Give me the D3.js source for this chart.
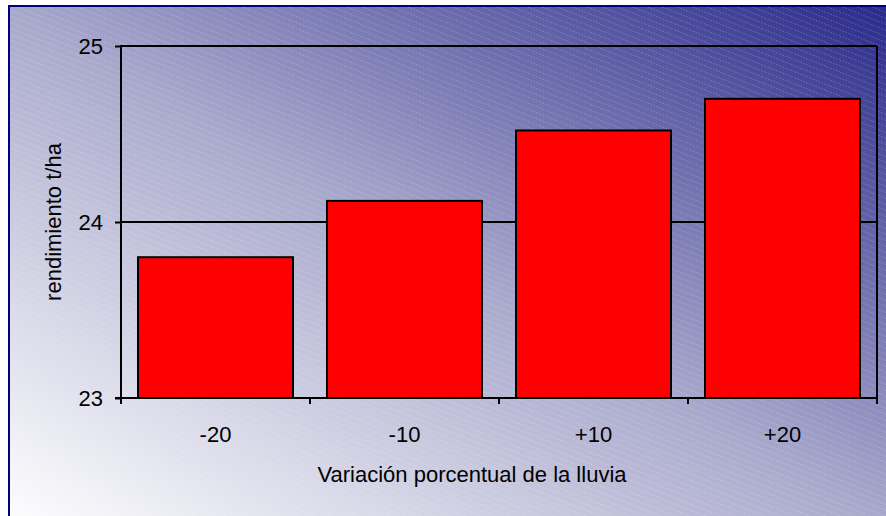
<!DOCTYPE html>
<html>
<head>
<meta charset="utf-8">
<script src="https://cdn.jsdelivr.net/npm/d3@7/dist/d3.min.js"></script>
<style>
  html, body { margin: 0; padding: 0; background: #ffffff; }
  svg { display: block; }
  text { font-family: "Liberation Sans", Arial, sans-serif; fill: #000; }
</style>
</head>
<body>
<svg id="chart" width="886" height="516"></svg>
<script>
const categories = ["-20", "-10", "+10", "+20"];
const values = [23.8, 24.12, 24.52, 24.7];
const yTicks = [23, 24, 25];
const xTitle = "Variación porcentual de la lluvia";
const yTitle = "rendimiento t/ha";

const W = 886, H = 516;
const FS = 22;
const svg = d3.select("#chart");
const defs = svg.append("defs");

const grad = defs.append("linearGradient").attr("id", "bg")
  .attr("x1", 0).attr("y1", 1).attr("x2", 1).attr("y2", 0);
grad.append("stop").attr("offset", "0").attr("stop-color", "#ffffff");
grad.append("stop").attr("offset", "0.5").attr("stop-color", "#a8a8cc");
grad.append("stop").attr("offset", "1").attr("stop-color", "#28288a");

const pat = defs.append("pattern").attr("id", "hatch")
  .attr("patternUnits", "userSpaceOnUse")
  .attr("width", 15).attr("height", 6);
[[0, 15], [-15, 0], [15, 30]].forEach(([a, b]) => {
  pat.append("line").attr("x1", a).attr("y1", 0).attr("x2", b).attr("y2", 6)
    .attr("stroke", "#ffffff").attr("stroke-opacity", 0.22).attr("stroke-width", 1)
    .attr("stroke-dasharray", "1.5,1.5");
});

// background and border
svg.append("rect").attr("x", 0).attr("y", 0).attr("width", W).attr("height", H).attr("fill", "#ffffff");
svg.append("rect").attr("x", 9).attr("y", 6).attr("width", W + 6).attr("height", H + 6).attr("fill", "url(#bg)");
svg.append("rect").attr("x", 9).attr("y", 6).attr("width", W + 6).attr("height", H + 6).attr("fill", "url(#hatch)");
svg.append("rect").attr("x", 9).attr("y", 6).attr("width", W + 6).attr("height", H + 6)
  .attr("fill", "none").attr("stroke", "#000080").attr("stroke-width", 2);

const plot = { left: 121, top: 46, right: 877, bottom: 398 };

const x = d3.scaleBand().domain(categories)
  .range([plot.left, plot.right]).paddingInner(0.18).paddingOuter(0.09);
const y = d3.scaleLinear().domain([23, 25]).range([plot.bottom, plot.top]);

// gridlines
svg.append("g").selectAll("line").data(yTicks.filter(t => t !== 23)).join("line")
  .attr("x1", plot.left).attr("x2", plot.right)
  .attr("y1", d => y(d)).attr("y2", d => y(d))
  .attr("stroke", "#000").attr("stroke-width", 2);

// right border of plot area
svg.append("line").attr("x1", plot.right).attr("x2", plot.right)
  .attr("y1", plot.top).attr("y2", plot.bottom)
  .attr("stroke", "#000").attr("stroke-width", 2);

// bars
svg.append("g").selectAll("rect").data(categories).join("rect")
  .attr("x", d => x(d))
  .attr("y", (d, i) => y(values[i]))
  .attr("width", x.bandwidth())
  .attr("height", (d, i) => y(23) - y(values[i]))
  .attr("fill", "#ff0000").attr("stroke", "#000").attr("stroke-width", 2);

// y axis
const yAxis = svg.append("g").attr("transform", `translate(${plot.left},0)`)
  .call(d3.axisLeft(y).tickValues(yTicks).tickFormat(d3.format("d")).tickSize(6).tickPadding(12));
yAxis.select(".domain").attr("stroke", "#000").attr("stroke-width", 2).attr("d", `M0,${plot.bottom + 1}V${plot.top - 1}`);
yAxis.selectAll(".tick line").attr("stroke", "#000").attr("stroke-width", 2);
yAxis.selectAll(".tick text").attr("font-size", FS).attr("fill", "#000")
  .attr("font-family", "Liberation Sans, Arial, sans-serif").attr("dy", "0.36em");

// x axis
const xAxisG = svg.append("g");
xAxisG.append("line").attr("x1", plot.left - 6).attr("x2", plot.right + 1)
  .attr("y1", plot.bottom).attr("y2", plot.bottom)
  .attr("stroke", "#000").attr("stroke-width", 2);
const tickPos = [plot.left].concat(categories.slice(1).map(c => x(c) - x.step() * x.paddingInner() / 2)).concat([plot.right]);
xAxisG.selectAll("line.t").data(tickPos).join("line").attr("class", "t")
  .attr("x1", d => d).attr("x2", d => d)
  .attr("y1", plot.bottom).attr("y2", plot.bottom + 6)
  .attr("stroke", "#000").attr("stroke-width", 2);
xAxisG.selectAll("text").data(categories).join("text")
  .attr("x", d => x(d) + x.bandwidth() / 2)
  .attr("y", 442)
  .attr("text-anchor", "middle")
  .attr("font-size", FS)
  .text(d => d);

// titles
svg.append("text").attr("x", 472).attr("y", 482)
  .attr("text-anchor", "middle").attr("font-size", FS).text(xTitle);
svg.append("text").attr("transform", `translate(61,${(plot.top + plot.bottom) / 2}) rotate(-90)`)
  .attr("text-anchor", "middle").attr("font-size", FS).text(yTitle);
</script>
</body>
</html>
